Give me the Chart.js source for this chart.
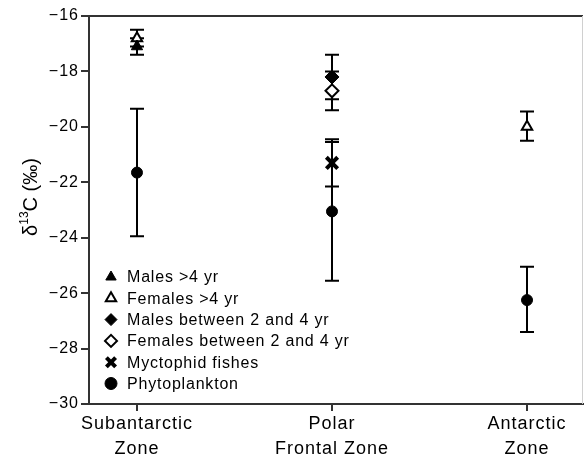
<!DOCTYPE html>
<html>
<head>
<meta charset="utf-8">
<script src="https://cdn.jsdelivr.net/npm/chart.js@4/dist/chart.umd.min.js"></script>
<style>
  html, body { margin: 0; padding: 0; background: #fff; }
  #wrap { width: 585px; height: 460px; }
</style>
</head>
<body>
<div id="wrap"><canvas id="chart" width="585" height="460"></canvas></div>
<script>
// ── Dati ─────────────────────────────────────────────────────
var zones = [['Subantarctic', 'Zone'], ['Polar', 'Frontal Zone'], ['Antarctic', 'Zone']];
var yTicks = [-30, -28, -26, -24, -22, -20, -18, -16];

var seriesNames = ['Males >4 yr', 'Females >4 yr', 'Males between 2 and 4 yr',
    'Females between 2 and 4 yr', 'Myctophid fishes', 'Phytoplankton'];

// valori medi per zona (null = non presente)
var malesOver4     = [-17.1, null, null];
var femalesOver4   = [-16.8, null, -20.0];
var males2to4      = [null, -18.2, null];
var females2to4    = [null, -18.7, null];
var myctophid      = [null, -21.3, null];
var phytoplankton  = [-21.65, -23.05, -26.25];

// barre d'errore: estremo superiore / inferiore
var malesOver4Hi    = [-16.8, null, null];
var malesOver4Lo    = [-17.4, null, null];
var femalesOver4Hi  = [-16.5, null, -19.45];
var femalesOver4Lo  = [-17.1, null, -20.5];
var males2to4Hi     = [null, -17.4, null];
var males2to4Lo     = [null, -19.0, null];
var females2to4Hi   = [null, -18.0, null];
var females2to4Lo   = [null, -19.4, null];
var myctophidHi     = [null, -20.45, null];
var myctophidLo     = [null, -22.15, null];
var phytoplanktonHi = [-19.35, -20.55, -25.05];
var phytoplanktonLo = [-23.95, -25.55, -27.4];

// ── Funzioni ─────────────────────────────────────────────────
function toPoints(values, hi, lo) {
    var pts = [];
    values.forEach(function (v, i) {
        if (v !== null) pts.push({ x: i, y: v, hi: hi[i], lo: lo[i] });
    });
    return pts;
}

function makeSet(label, values, hi, lo, style, fill, radius, border) {
    return {
        label: label,
        data: toPoints(values, hi, lo),
        pointStyle: style,
        pointRadius: radius,
        pointHoverRadius: radius,
        backgroundColor: fill,
        borderColor: '#000',
        pointBorderWidth: border,
        showLine: false
    };
}

// spaziatura lettere come nell'originale
var spacing = {
    id: 'spacing',
    beforeUpdate: function (chart) { chart.ctx.letterSpacing = '1px'; },
    beforeDraw: function (chart) { chart.ctx.letterSpacing = '1px'; }
};

var errorBars = {
    id: 'errorBars',
    beforeDatasetsDraw: function (chart) {
        var ctx = chart.ctx;
        var xs = chart.scales.x, ys = chart.scales.y;
        ctx.save();
        ctx.strokeStyle = '#000';
        ctx.lineWidth = 2;
        chart.data.datasets.forEach(function (ds) {
            ds.data.forEach(function (p) {
                var px = Math.round(xs.getPixelForValue(p.x));
                var yh = ys.getPixelForValue(p.hi);
                var yl = ys.getPixelForValue(p.lo);
                ctx.beginPath();
                ctx.moveTo(px, yh); ctx.lineTo(px, yl);
                ctx.moveTo(px - 7, yh); ctx.lineTo(px + 7, yh);
                ctx.moveTo(px - 7, yl); ctx.lineTo(px + 7, yl);
                ctx.stroke();
            });
        });
        ctx.restore();
    }
};

var frameAndLegend = {
    id: 'frameAndLegend',
    afterDraw: function (chart) {
        var ctx = chart.ctx;
        var a = chart.chartArea;
        ctx.save();
        // bordo superiore e destro
        ctx.strokeStyle = '#333';
        ctx.lineWidth = 2;
        ctx.beginPath();
        ctx.moveTo(a.left, a.top); ctx.lineTo(a.right, a.top);
        ctx.stroke();
        ctx.strokeStyle = '#d0d0d0';
        ctx.lineWidth = 1;
        ctx.beginPath();
        ctx.moveTo(a.right - 0.5, a.top); ctx.lineTo(a.right - 0.5, a.bottom);
        ctx.stroke();

        // legenda interna
        ctx.letterSpacing = '0.8px';
        ctx.font = '16px "Liberation Sans", Arial, sans-serif';
        ctx.textBaseline = 'middle';
        ctx.textAlign = 'left';
        chart.data.datasets.forEach(function (ds, i) {
            var y = 277 + i * 21.3;
            ctx.fillStyle = ds.backgroundColor;
            ctx.strokeStyle = '#000';
            ctx.lineWidth = ds.pointBorderWidth;
            Chart.helpers.drawPoint(ctx, {
                pointStyle: ds.pointStyle,
                radius: ds.pointStyle === 'crossRot' ? 6.5 : 6,
                borderWidth: ds.pointBorderWidth
            }, 111, y);
            ctx.fillStyle = '#000';
            ctx.fillText(ds.label, 127, y + 1);
        });

        // titolo asse y con apice
        ctx.letterSpacing = '0px';
        ctx.translate(31, 197);
        ctx.rotate(-Math.PI / 2);
        ctx.textBaseline = 'middle';
        var big = '20px "Liberation Sans", Arial, sans-serif';
        var small = '12px "Liberation Sans", Arial, sans-serif';
        ctx.font = big;
        var w1 = ctx.measureText('δ').width;
        var w3 = ctx.measureText('C (‰)').width;
        ctx.font = small;
        var w2 = ctx.measureText('13').width;
        var x0 = -(w1 + w2 + w3) / 2;
        ctx.font = big;
        ctx.fillText('δ', x0, 0);
        ctx.font = small;
        ctx.fillText('13', x0 + w1, -6);
        ctx.font = big;
        ctx.fillText('C (‰)', x0 + w1 + w2, 0);
        ctx.restore();
    }
};

// ── Grafico ──────────────────────────────────────────────────
var yFont = { family: '"Liberation Sans", Arial, sans-serif', size: 16 };
var xFont = { family: '"Liberation Sans", Arial, sans-serif', size: 18, lineHeight: 1.38 };

var ctx = document.getElementById('chart').getContext('2d');
var chart = new Chart(ctx, {
    type: 'scatter',
    data: {
        datasets: [
            makeSet(seriesNames[0], malesOver4, malesOver4Hi, malesOver4Lo, 'triangle', '#000', 6.5, 1),
            makeSet(seriesNames[1], femalesOver4, femalesOver4Hi, femalesOver4Lo, 'triangle', '#fff', 6, 2),
            makeSet(seriesNames[2], males2to4, males2to4Hi, males2to4Lo, 'rectRot', '#000', 7, 1),
            makeSet(seriesNames[3], females2to4, females2to4Hi, females2to4Lo, 'rectRot', '#fff', 6.5, 2),
            makeSet(seriesNames[4], myctophid, myctophidHi, myctophidLo, 'crossRot', '#000', 8, 4),
            makeSet(seriesNames[5], phytoplankton, phytoplanktonHi, phytoplanktonLo, 'circle', '#000', 5.5, 1)
        ]
    },
    options: {
        responsive: false,
        animation: false,
        layout: { autoPadding: false, padding: { top: 16, right: 2, left: 0, bottom: 0 } },
        plugins: {
            legend: { display: false },
            tooltip: { enabled: false }
        },
        scales: {
            x: {
                type: 'linear',
                min: -0.246,
                max: 2.287,
                afterBuildTicks: function (scale) {
                    scale.ticks = zones.map(function (z, i) { return { value: i }; });
                },
                afterFit: function (scale) {
                    scale.height = 56;
                    scale.paddingLeft = 0;
                    scale.paddingRight = 0;
                },
                ticks: {
                    color: '#000',
                    font: xFont,
                    maxRotation: 0,
                    autoSkip: false,
                    padding: 1,
                    callback: function (v) { return zones[v]; }
                },
                grid: { drawOnChartArea: false, tickLength: 7, color: '#333', lineWidth: 2 },
                border: { color: '#333', width: 2 }
            },
            y: {
                min: -30,
                max: -16,
                afterBuildTicks: function (scale) {
                    scale.ticks = yTicks.map(function (v) { return { value: v }; });
                },
                afterFit: function (scale) {
                    scale.width = 89;
                    scale.paddingTop = 0;
                    scale.paddingBottom = 0;
                },
                ticks: {
                    color: '#000',
                    font: yFont,
                    padding: 2,
                    callback: function (v) { return v < 0 ? '\u2212' + Math.abs(v) : v; }
                },
                grid: { drawOnChartArea: false, tickLength: 8, color: '#333', lineWidth: 2 },
                border: { color: '#333', width: 2 }
            }
        }
    },
    plugins: [spacing, errorBars, frameAndLegend]
});
</script>
</body>
</html>
